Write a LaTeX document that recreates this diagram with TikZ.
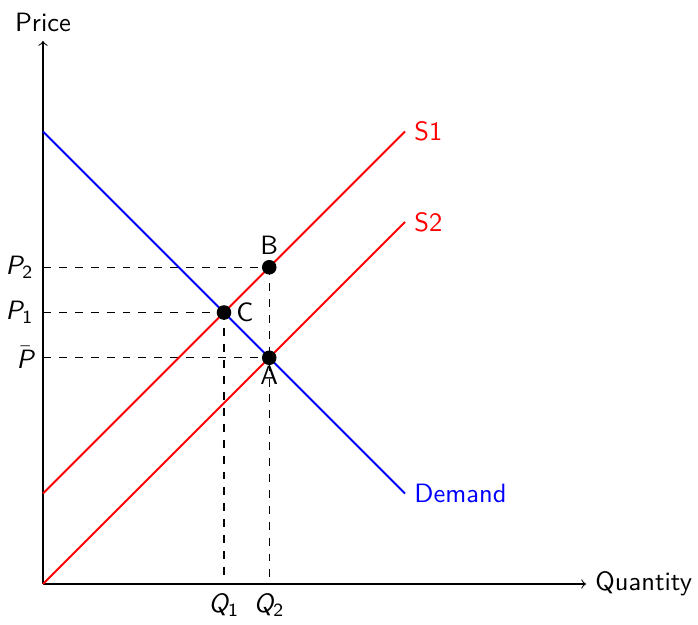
\documentclass[tikz,border=0pt]{standalone}
\usepackage{amsmath}
\renewcommand{\familydefault}{\sfdefault}
\newcommand{\sv}[1]{\text{\itshape #1}}
\begin{document}
\begin{tikzpicture}[x=0.6cm,y=0.6cm,
  dot/.style={circle,fill=black,inner sep=0pt,minimum size=5.5pt},
  guide/.style={dashed},
  axis/.style={->},
  curve/.style={line width=0.75pt}]
\useasboundingbox (-0.950,-0.884) rectangle (14.475,12.906);
\coordinate (O) at (0,0);
\coordinate (Xend) at (12,0);
\coordinate (Yend) at (0,12);
\coordinate (D0) at (0,10);
\coordinate (D1) at (8,2);
\coordinate (S1a) at (0,2);
\coordinate (S1b) at (8,10);
\coordinate (S2a) at (0,0);
\coordinate (S2b) at (8,8);
\coordinate (yP2) at (0,7);
\coordinate (yP1) at (0,6);
\coordinate (yPb) at (0,5);
\coordinate (xQ1) at (4,0);
\coordinate (xQ2) at (5,0);
\coordinate (B) at (5,7);
\coordinate (C) at (4,6);
\coordinate (A) at (5,5);
% dashed guides
\draw[guide] (yP2) -- (B);
\draw[guide] (yP1) -- (C);
\draw[guide] (yPb) -- (A);
\draw[guide,xshift=0.25pt] (C) -- (xQ1);
\draw[guide] (B) -- (xQ2);
% axes
\draw[axis] (O) -- (Xend);
\draw[axis] (O) -- (Yend);
\node[right] (xlab) at (Xend) {Quantity};
\node[above] (ylab) at (Yend) {Price};
% curves
\draw[curve,blue] (D0) -- (D1);
\draw[curve,red] (S1a) -- (S1b);
\draw[curve,red] (S2a) -- (S2b);
\node[right,blue] (dlab) at (D1) {Demand};
\node[right,red] (s1lab) at (S1b) {S1};
\node[right,red] (s2lab) at (S2b) {S2};
% points
\node[dot] (Bdot) at (B) {};
\node[dot] (Cdot) at (C) {};
\node[dot] (Adot) at (A) {};
\node[above,inner sep=1.5pt] (Blab) at (Bdot.north) {B};
\node[right,inner sep=1.5pt] (Clab) at (Cdot.east) {C};
\node[below,inner sep=0pt] (Alab) at (Adot.south) {A};
% axis labels
\node[left] (lP2) at (yP2) {$\sv{P}_{\textsf{2}}$};
\node[left] (lP1) at (yP1) {$\sv{P}_{\textsf{1}}$};
\node[left] (lPb) at (yPb) {$\bar{\sv{P}}$};
\node[below] (lQ1) at (xQ1) {$\sv{Q}_{\textsf{1}}$};
\node[below] (lQ2) at (xQ2) {$\sv{Q}_{\textsf{2}}$};
\end{tikzpicture}
\end{document}
